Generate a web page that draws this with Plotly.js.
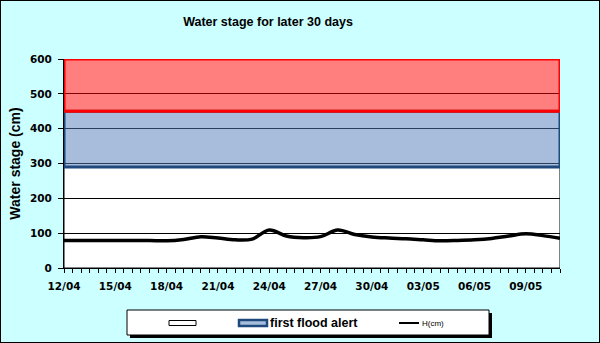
<!DOCTYPE html>
<html>
<head>
<meta charset="utf-8">
<script src="https://cdn.plot.ly/plotly-3.0.1.min.js"></script>
<style>
  html, body { margin: 0; padding: 0; background: #CCFFFF; }
  #wrap { position: relative; width: 600px; height: 343px; }
  #chart { width: 600px; height: 343px; }
  #frame { position: absolute; left: 0; top: 0; width: 600px; height: 343px; box-sizing: border-box; border: 1px solid #000; pointer-events: none; }
</style>
</head>
<body>
<div id="wrap"><div id="chart"></div><div id="frame"></div></div>
<script>
// ---- data ----
const dates = ['2024-04-12','2024-04-13','2024-04-14','2024-04-15','2024-04-16','2024-04-17',
               '2024-04-18','2024-04-19','2024-04-20','2024-04-21','2024-04-22','2024-04-23',
               '2024-04-24','2024-04-25','2024-04-26','2024-04-27','2024-04-28','2024-04-29',
               '2024-04-30','2024-05-01','2024-05-02','2024-05-03','2024-05-04','2024-05-05',
               '2024-05-06','2024-05-07','2024-05-08','2024-05-09','2024-05-10','2024-05-11'];
const waterStage = [79, 79, 79, 79, 79, 79,
                    78, 82, 90, 86, 81, 83,
                    109, 92, 87, 90, 109, 96,
                    89, 86, 84, 81, 78, 79,
                    81, 85, 92, 98, 93, 85];
const levelBase = 0;         // bottom of the normal band
const firstAlert = 290;      // first flood alert level
const secondAlert = 450;     // upper alert level
const axisTop = 600;
const yTicks = [0, 100, 200, 300, 400, 500, 600];
const seriesNames = ['', 'first flood alert', 'H(cm)'];

// ---- build band polygons from the levels ----
const x0 = dates[0], x1 = dates[dates.length - 1];
function band(lo, hi) {
  return { x: [x0, x1, x1, x0, x0], y: [lo, lo, hi, hi, lo] };
}
const bNormal = band(levelBase, firstAlert);
const bFirst = band(firstAlert, secondAlert);
const bSecond = band(secondAlert, axisTop);

const traces = [
  { type: 'scatter', mode: 'lines', x: bNormal.x, y: bNormal.y, fill: 'toself',
    fillcolor: 'rgba(255,255,255,0)', line: { color: '#000000', width: 1 },
    name: seriesNames[0], hoverinfo: 'skip' },
  { type: 'scatter', mode: 'lines', x: bFirst.x, y: bFirst.y, fill: 'toself',
    fillcolor: 'rgba(79,123,183,0.5)', line: { color: '#1F497D', width: 3 },
    name: seriesNames[1], hoverinfo: 'skip' },
  { type: 'scatter', mode: 'lines', x: bSecond.x, y: bSecond.y, fill: 'toself',
    fillcolor: 'rgba(255,0,0,0.5)', line: { color: '#FF0000', width: 3 },
    name: 'second alert', hoverinfo: 'skip' },
  { type: 'scatter', mode: 'lines', x: dates, y: waterStage,
    line: { color: '#000000', width: 3.5, shape: 'spline', smoothing: 1 },
    name: seriesNames[2] }
];

const arial = 'Liberation Sans, Arial, sans-serif';
const wide = 'DejaVu Sans, Verdana, sans-serif';
const plotL = 64, plotR = 560, plotT = 59, plotB = 268;
const pw = plotR - plotL, ph = plotB - plotT;
function px(x) { return (x - plotL) / pw; }
function py(y) { return (plotB - y) / ph; }
function rect(xa, ya, xb, yb, fill, lc, lw) {
  return { type: 'rect', xref: 'paper', yref: 'paper', layer: 'above',
           x0: px(xa), x1: px(xb), y0: py(yb), y1: py(ya),
           fillcolor: fill, line: { color: lc || 'rgba(0,0,0,0)', width: lw || 0 } };
}

// hand-drawn legend (box, shadow, keys)
const legendY = 323;
const shapes = [
  rect(130, 313, 492, 338, '#000000'),
  rect(127, 310, 489, 335, '#FFFFFF', '#000000', 1),
  rect(169, 320.5, 196, 325.5, '#FFFFFF', '#000000', 1),
  rect(239, 320, 267, 326, '#A6BDDB', '#1F497D', 2.5),
  { type: 'line', xref: 'paper', yref: 'paper', layer: 'above',
    x0: px(399), x1: px(419), y0: py(legendY), y1: py(legendY),
    line: { color: '#000000', width: 2 } }
];
const annotations = [
  { xref: 'paper', yref: 'paper', x: px(268), y: py(legendY), xanchor: 'left', yanchor: 'middle',
    text: '<b>' + seriesNames[1] + '</b>', showarrow: false,
    font: { family: arial, size: 12.5, color: '#000000' } },
  { xref: 'paper', yref: 'paper', x: px(420), y: py(legendY), xanchor: 'left', yanchor: 'middle',
    text: seriesNames[2], showarrow: false,
    font: { family: arial, size: 8, color: '#000000' } }
];

const layout = {
  width: 600, height: 343,
  paper_bgcolor: '#CCFFFF', plot_bgcolor: '#FFFFFF',
  margin: { l: plotL, r: 600 - plotR, t: plotT, b: 343 - plotB, pad: 0, autoexpand: false },
  font: { family: arial, size: 11, color: '#000' },
  title: { text: '<b>Water stage for later 30 days</b>', font: { family: arial, size: 12.5, color: '#000' },
           x: 268 / 600, xanchor: 'center', y: 1 - 22 / 343, yanchor: 'middle' },
  showlegend: false,
  xaxis: {
    type: 'date', range: [x0, x1], tick0: x0, dtick: 3 * 86400000, tickformat: '%d/%m',
    ticks: 'outside', ticklen: 4, tickcolor: '#000', tickwidth: 1,
    minor: { dtick: 43200000, ticks: 'outside', ticklen: 4, tickcolor: '#000', showgrid: false },
    showline: true, linecolor: '#000', linewidth: 1, showgrid: false, zeroline: false,
    tickfont: { family: wide, size: 10.5, color: '#000', weight: 'bold' },
    ticklabelstandoff: 4,
    automargin: false, fixedrange: true
  },
  yaxis: {
    range: [0, axisTop], tickvals: yTicks, ticktext: yTicks.map(String),
    ticks: 'outside', ticklen: 5, tickcolor: '#000',
    showline: true, linecolor: '#000', linewidth: 1,
    showgrid: true, gridcolor: '#000000', gridwidth: 1, zeroline: false,
    tickfont: { family: wide, size: 10.5, color: '#000', weight: 'bold' },
    ticklabelstandoff: 4,
    title: { text: '<b>Water stage (cm)</b>', font: { family: arial, size: 14, color: '#000' }, standoff: 6 },
    automargin: false, fixedrange: true
  },
  shapes: shapes,
  annotations: annotations
};

Plotly.newPlot('chart', traces, layout, { displayModeBar: false, staticPlot: true });
</script>
</body>
</html>
